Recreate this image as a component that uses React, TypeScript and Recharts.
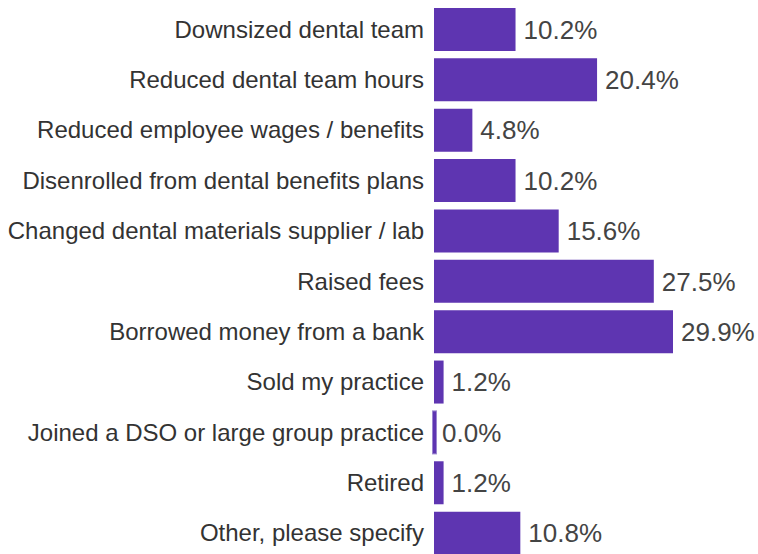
import { BarChart, Bar, XAxis, YAxis, LabelList, Rectangle } from "recharts";

const categories = [
  "Downsized dental team",
  "Reduced dental team hours",
  "Reduced employee wages / benefits",
  "Disenrolled from dental benefits plans",
  "Changed dental materials supplier / lab",
  "Raised fees",
  "Borrowed money from a bank",
  "Sold my practice",
  "Joined a DSO or large group practice",
  "Retired",
  "Other, please specify",
];

const percents = [10.2, 20.4, 4.8, 10.2, 15.6, 27.5, 29.9, 1.2, 0.0, 1.2, 10.8];

const data = categories.map((label, i) => ({ label, value: percents[i] }));

const FONT = "'Liberation Sans', Arial, sans-serif";
const PURPLE = "#5e35b1";

// zero-value bars still show a thin sliver, like the original
function BarShape(props: any) {
  const { x, y, width, height } = props;
  if (width < 1) {
    return (
      <rect
        x={x - 1.5}
        y={y}
        width={4}
        height={height}
        fill={PURPLE}
        stroke="#9c87d0"
        strokeWidth={1}
      />
    );
  }
  return <Rectangle x={x} y={y} width={width} height={height} fill={PURPLE} />;
}

export default function App() {
  return (
    <div
      style={{
        position: "absolute",
        left: 0,
        top: 0,
        width: 758,
        height: 554,
        overflow: "hidden",
        background: "#fff",
        fontFamily: FONT,
      }}
    >
      <BarChart
        width={758}
        height={560}
        data={data}
        layout="vertical"
        margin={{ top: 4, right: 85, bottom: 2, left: 0 }}
      >
        <XAxis type="number" hide domain={[0, 29.9]} />
        <YAxis
          type="category"
          dataKey="label"
          width={434}
          axisLine={false}
          tickLine={false}
          tickMargin={4}
          interval={0}
          tick={{ fontSize: 24, fill: "#333", fontFamily: FONT }}
        />
        <Bar
          dataKey="value"
          fill={PURPLE}
          barSize={43}
          shape={BarShape}
          isAnimationActive={false}
        >
          <LabelList
            dataKey="value"
            position="right"
            offset={8}
            formatter={(v: number) => `${Number(v).toFixed(1)}%`}
            style={{ fontSize: 26, fill: "#444", fontFamily: FONT }}
          />
        </Bar>
      </BarChart>
    </div>
  );
}
